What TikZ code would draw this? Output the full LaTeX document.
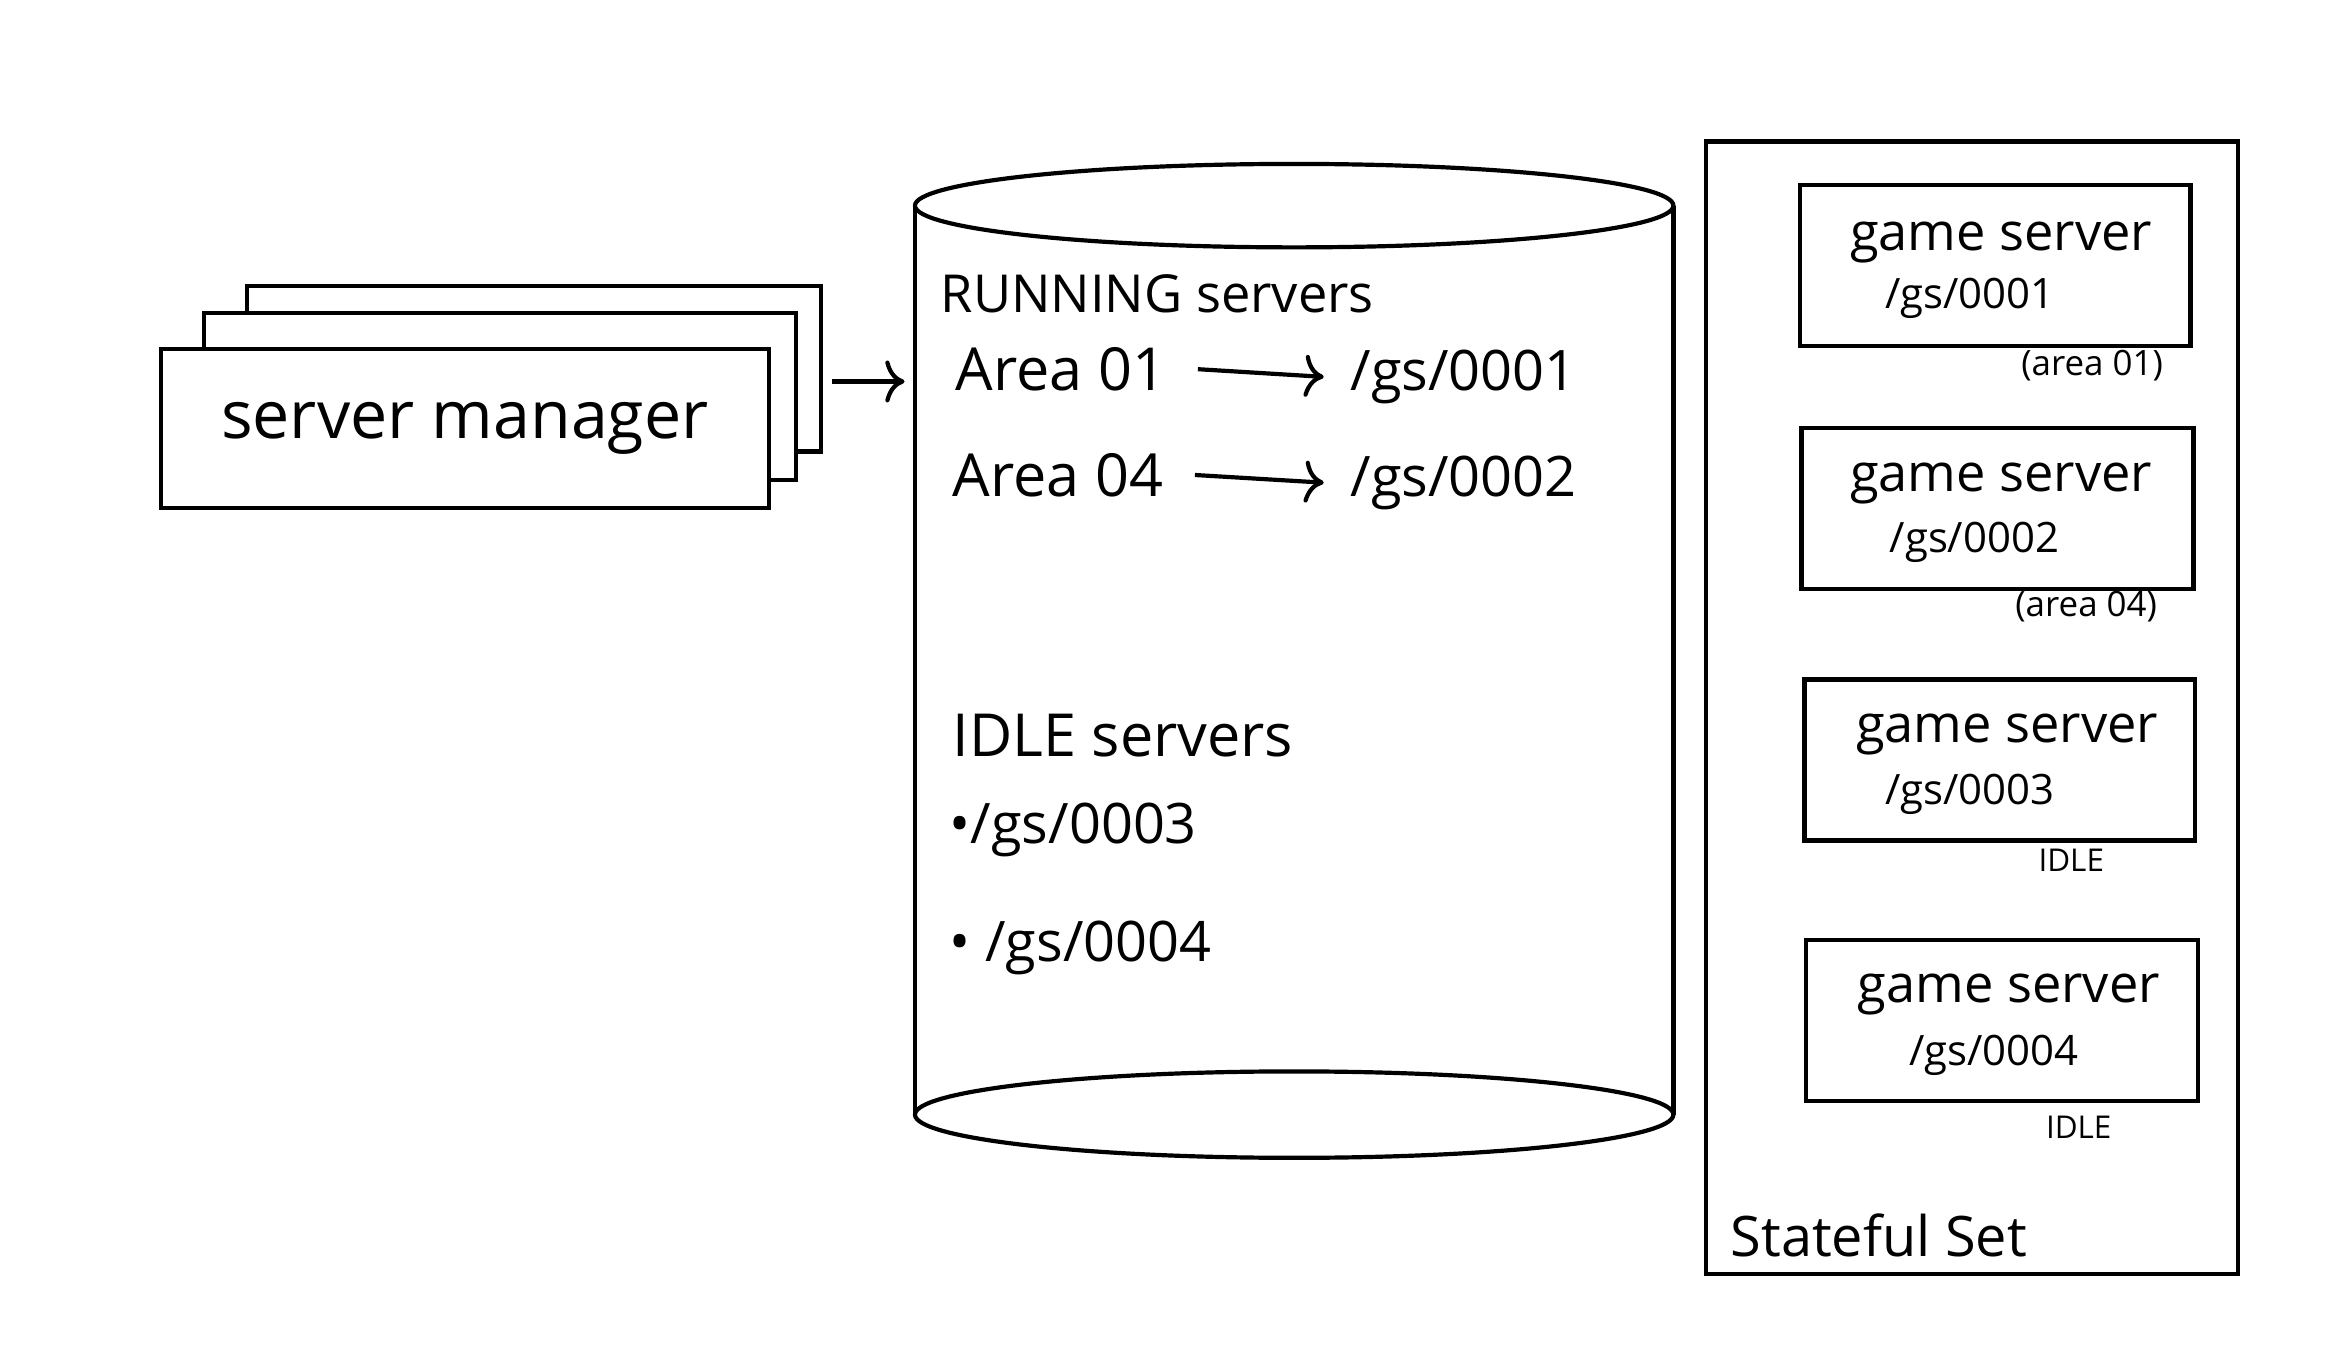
\documentclass[tikz,border=0pt]{standalone}
\usepackage{fontspec}
\setmainfont{Open Sans}
\usepackage{tikz}
\usetikzlibrary{arrows.meta}

\tikzset{
	sketch/.style={line width=1.2pt},
	arr/.style={-{To[length=5.5pt, width=12pt]}},
	hugetxt/.style={font=\fontsize{19}{23}\selectfont},
	bigtxt/.style={font=\fontsize{17}{21}\selectfont},
	gstxt/.style={font=\fontsize{16}{19}\selectfont},
	midtxt/.style={font=\fontsize{15}{18}\selectfont},
	smalltxt/.style={font=\fontsize{12}{14}\selectfont},
	tinytxt/.style={font=\fontsize{10}{12}\selectfont},
	notetxt/.style={font=\fontsize{9}{11}\selectfont},
}

\begin{document}
\begin{tikzpicture}[x=0.015cm, y=-0.015cm, sketch]
		\useasboundingbox (0,0) rectangle (1567,919);

		\draw[fill=white] (166,192) rectangle (551,303) coordinate (sm3corner);
		\draw[fill=white] (137,210) rectangle (534,322) coordinate (sm2corner);
		\draw[fill=white] (108,234) rectangle (516,341) node[pos=.5, hugetxt] (sm1) {server manager};

		\draw (614,138) -- (614,748);
		\draw (1123,138) -- (1123,748);
		\draw (868.5,138) ellipse [x radius=254.5, y radius=28];
		\draw (868.5,748) ellipse [x radius=254.5, y radius=29];
		\coordinate (dbin) at (607,256);
		\draw[arr] ([xshift=3pt]sm3corner |- dbin) -- (dbin);

		\node[midtxt, anchor=base west, inner sep=0pt] (runhead) at (630,210) {RUNNING servers};
		\node[bigtxt, anchor=base west, inner sep=0pt] (area1) at (640,262) {Area 01};
		\node[gstxt, anchor=base west, inner sep=0pt] (run1) at (905,262) {/gs/0001};
		\node[bigtxt, anchor=base west, inner sep=0pt] (area4) at (638,333) {Area 04};
		\node[gstxt, anchor=base west, inner sep=0pt] (run2) at (905,333) {/gs/0002};
		\draw[arr] ([xshift=0.3cm]area1.east) -- ([xshift=-0.25cm]run1.west);
		\draw[arr] ([xshift=0.3cm]area4.east) -- ([xshift=-0.25cm]run2.west);

		\node[bigtxt, anchor=base west, inner sep=0pt] (idlehead) at (638,508) {IDLE servers};
		\node[gstxt, anchor=base west, inner sep=0pt] (idle1) at (636,566) {•/gs/0003};
		\node[gstxt, anchor=base west, inner sep=0pt] (idle2) at (636,645) {• /gs/0004};

		\draw (1145,95) rectangle (1502,855);
		\node[gstxt, anchor=base west, inner sep=0pt] (sset) at (1160,843) {Stateful Set};

		\draw (1208,124) rectangle (1470,232) node[pos=.5] (gs1) {};
		\draw (1209,287) rectangle (1472,395) node[pos=.5] (gs2) {};
		\draw (1211,456) rectangle (1473,564) node[pos=.5] (gs3) {};
		\draw (1212,631) rectangle (1475,739) node[pos=.5] (gs4) {};

		\node[midtxt, anchor=base] (gs1name) at (1343,168) {game server};
		\node[smalltxt, anchor=base] (gs1id) at (1322,207) {/gs/0001};
		\node[midtxt, anchor=base] (gs2name) at (1343,330) {game server};
		\node[smalltxt, anchor=base] (gs2id) at (1325,371) {/gs/0002};
		\node[midtxt, anchor=base] (gs3name) at (1347,498) {game server};
		\node[smalltxt, anchor=base] (gs3id) at (1322,540) {/gs/0003};
		\node[midtxt, anchor=base] (gs4name) at (1348,673) {game server};
		\node[smalltxt, anchor=base] (gs4id) at (1338,715) {/gs/0004};

		\node[tinytxt, anchor=base] (gs1note) at (1404,252) {(area 01)};
		\node[tinytxt, anchor=base] (gs2note) at (1400,414) {(area 04)};
		\node[notetxt, anchor=base] (gs3note) at (1390,585) {IDLE};
		\node[notetxt, anchor=base] (gs4note) at (1395,764) {IDLE};
	\end{tikzpicture}
\end{document}
